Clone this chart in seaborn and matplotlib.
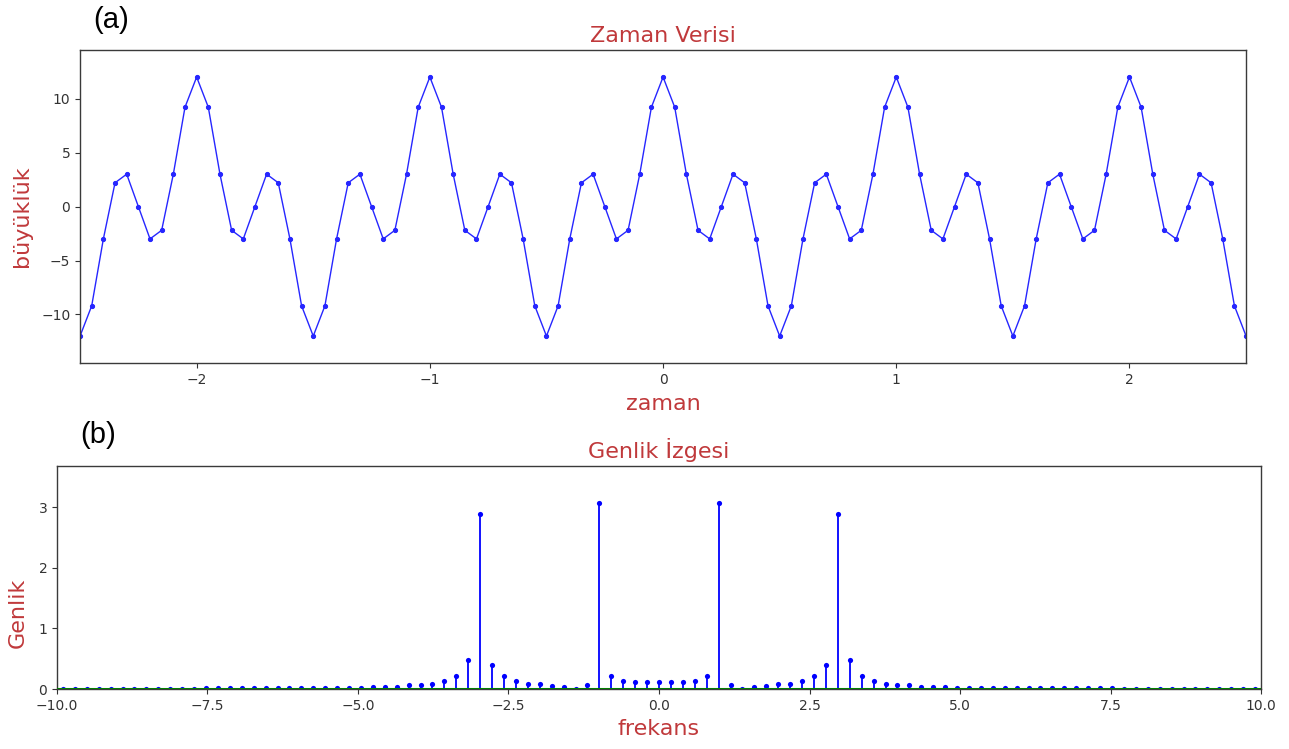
import numpy as np
import matplotlib
matplotlib.use("Agg")
import matplotlib.pyplot as plt
import seaborn as sns

# ---- data ----
zaman = np.linspace(-2.5, 2.5, 101)
buyukluk = [
    -12, -9.2, -3, 2.2, 3, 0, -3, -2.2, 3, 9.2,
    12, 9.2, 3, -2.2, -3, 0, 3, 2.2, -3, -9.2,
    -12, -9.2, -3, 2.2, 3, 0, -3, -2.2, 3, 9.2,
    12, 9.2, 3, -2.2, -3, 0, 3, 2.2, -3, -9.2,
    -12, -9.2, -3, 2.2, 3, 0, -3, -2.2, 3, 9.2,
    12, 9.2, 3, -2.2, -3, 0, 3, 2.2, -3, -9.2,
    -12, -9.2, -3, 2.2, 3, 0, -3, -2.2, 3, 9.2,
    12, 9.2, 3, -2.2, -3, 0, 3, 2.2, -3, -9.2,
    -12, -9.2, -3, 2.2, 3, 0, -3, -2.2, 3, 9.2,
    12, 9.2, 3, -2.2, -3, 0, 3, 2.2, -3, -9.2,
    -12,
]

frekans = np.arange(-50, 51) * 20.0 / 101
genlik = [
    0, 0, 0, 0, 0, 0, 0, 0, 0, 0, 0, 0,
    0.018, 0.018, 0.018, 0.018, 0.018, 0.018, 0.018,
    0.018, 0.018, 0.018, 0.018, 0.018, 0.018, 0.018,
    0.04, 0.04, 0.04, 0.06, 0.06, 0.08, 0.13, 0.21, 0.48, 2.89,
    0.39, 0.21, 0.13, 0.09, 0.09, 0.055, 0.035, 0.0, 0.06, 3.07,
    0.21, 0.13, 0.11, 0.11,
    0.11,
    0.11, 0.11, 0.13, 0.21,
    3.07, 0.06, 0.0, 0.035, 0.055, 0.09, 0.09, 0.13, 0.21, 0.39,
    2.89, 0.48, 0.21, 0.13, 0.08, 0.06, 0.06, 0.04, 0.04, 0.04,
    0.018, 0.018, 0.018, 0.018, 0.018, 0.018, 0.018,
    0.018, 0.018, 0.018, 0.018, 0.018, 0.018, 0.018,
    0, 0, 0, 0, 0, 0, 0, 0, 0, 0, 0, 0,
]

# ---- style ----
sns.set_style("ticks")
plt.rcParams['font.family'] = ['DejaVu Sans']
red = '#c0393b'
edge = '#3a3a3a'
line_blue = '#2626ff'

fig = plt.figure(figsize=(12.89, 7.49), dpi=100)

# top panel
ax1 = fig.add_axes([0.0621, 0.5153, 0.9046, 0.4179])
sns.lineplot(x=zaman, y=buyukluk, ax=ax1, color=line_blue, linewidth=1.0,
             marker='o', markersize=3.0, markeredgecolor=line_blue,
             estimator=None, sort=False)
ax1.set_xlim(-2.5, 2.5)
ax1.set_ylim(-14.5, 14.5)
ax1.set_xticks([-2, -1, 0, 1, 2])
ax1.set_yticks([-10, -5, 0, 5, 10])
ax1.set_title('Zaman Verisi', color=red, fontsize=16, pad=6)
ax1.set_xlabel('zaman', color=red, fontsize=16)
ax1.set_ylabel('büyüklük', color=red, fontsize=16)
ax1.yaxis.set_label_coords(-0.041, 0.47)
ax1.xaxis.set_label_coords(0.5, -0.1)

# bottom panel
ax2 = fig.add_axes([0.0442, 0.0801, 0.9341, 0.2977])
ax2.axhline(0, color='green', linewidth=2.2, zorder=3)
ax2.vlines(frekans, 0, genlik, color='blue', linewidth=1.3, zorder=2)
sns.scatterplot(x=frekans, y=genlik, ax=ax2, color='blue', s=14,
                edgecolor='blue', linewidth=0, zorder=2.5)
ax2.set_xlim(-10, 10)
ax2.set_ylim(0, 3.68)
ax2.set_xticks([-10, -7.5, -5, -2.5, 0, 2.5, 5, 7.5, 10])
ax2.set_xticklabels(['−10.0', '−7.5', '−5.0', '−2.5', '0.0', '2.5', '5.0', '7.5', '10.0'])
ax2.set_yticks([0, 1, 2, 3])
ax2.set_title('Genlik İzgesi', color=red, fontsize=16, pad=6)
ax2.set_xlabel('frekans', color=red, fontsize=16)
ax2.set_ylabel('Genlik', color=red, fontsize=16)
ax2.yaxis.set_label_coords(-0.024, 0.34)
ax2.xaxis.set_label_coords(0.5, -0.135)

for ax in (ax1, ax2):
    for sp in ax.spines.values():
        sp.set_color(edge)
        sp.set_linewidth(1.0)
    ax.tick_params(colors='#333333', labelsize=10, length=3.5, width=0.8)

fig.text(0.0722, 0.973, '(a)', fontsize=21, family=['Liberation Sans'],
         ha='left', va='center', color='black')
fig.text(0.062, 0.419, '(b)', fontsize=21, family=['Liberation Sans'],
         ha='left', va='center', color='black')

fig.savefig('out.png', dpi=100)
